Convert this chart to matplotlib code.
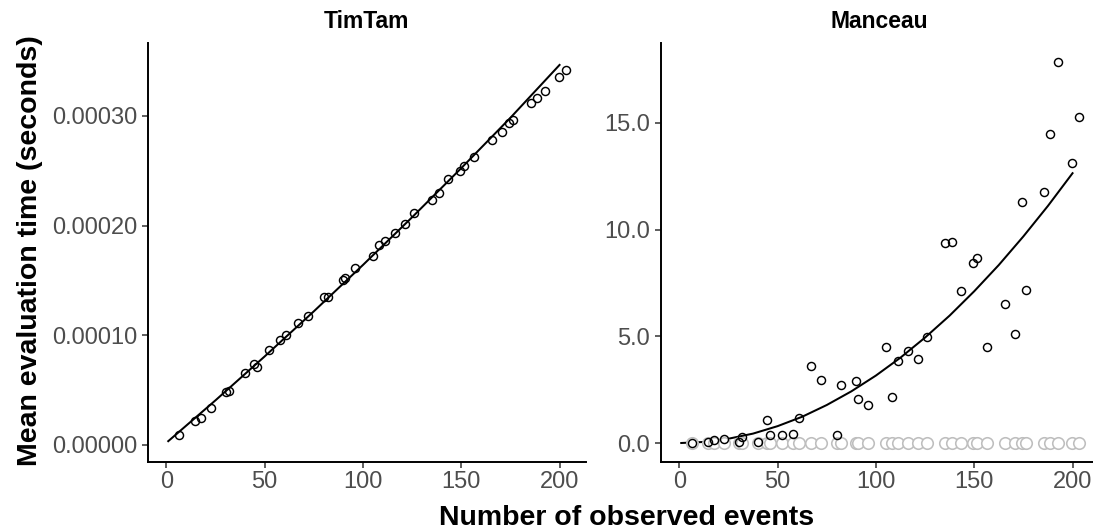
import numpy as np
import matplotlib
matplotlib.use("Agg")
import matplotlib.pyplot as plt
from matplotlib.ticker import FormatStrFormatter

plt.rcParams['font.family'] = ['Liberation Sans', 'DejaVu Sans']

# number of observed events (shared by both panels)
n_events = [6.6, 14.8, 17.8, 22.8, 30.5, 32.0, 39.8, 44.7, 46.0, 52.0,
            58.0, 61.0, 67.2, 72.2, 80.0, 82.1, 90.0, 91.0, 96.0, 105.2,
            108.1, 111.3, 116.2, 121.2, 126.1, 135.3, 138.5, 143.3, 149.3, 151.3,
            156.5, 165.5, 170.6, 174.5, 176.5, 185.5, 188.4, 192.5, 199.5, 203.3]

# TimTam mean evaluation time (s)
timtam_time = [0.0000091, 0.0000218, 0.0000248, 0.0000336, 0.0000485, 0.0000494,
               0.0000652, 0.0000742, 0.0000712, 0.0000864, 0.0000955, 0.0001006,
               0.0001115, 0.0001176, 0.0001345, 0.0001348, 0.0001500, 0.0001524,
               0.0001612, 0.0001727, 0.0001827, 0.0001864, 0.0001933, 0.0002015,
               0.0002112, 0.0002233, 0.0002300, 0.0002421, 0.0002500, 0.0002540,
               0.0002627, 0.0002782, 0.0002857, 0.0002939, 0.0002964, 0.0003121,
               0.0003167, 0.0003227, 0.0003355, 0.0003415]

# Manceau mean evaluation time (s)
manceau_time = [0.01, 0.05, 0.15, 0.17, 0.05, 0.28, 0.05, 1.09, 0.39, 0.39,
                0.44, 1.17, 3.61, 2.94, 0.36, 2.72, 2.90, 2.08, 1.80, 4.51,
                2.14, 3.83, 4.29, 3.92, 4.95, 9.38, 9.41, 7.12, 8.43, 8.67,
                4.51, 6.51, 5.12, 11.30, 7.17, 11.77, 14.47, 17.85, 13.13, 15.26]

# grey reference series along zero in the Manceau panel
manceau_ref = [0.0, 0.0, 0.0, 0.0, 0.0, 0.0, 0.0, 0.0, 0.0, 0.0,
               0.0, 0.0, 0.0, 0.0, 0.0, 0.0, 0.0, 0.0, 0.0, 0.0,
               0.0, 0.0, 0.0, 0.0, 0.0, 0.0, 0.0, 0.0, 0.0, 0.0,
               0.0, 0.0, 0.0, 0.0, 0.0, 0.0, 0.0, 0.0, 0.0, 0.0]

# smooth fits
timtam_fit_x = [1, 25, 50, 75, 100, 125, 150, 175, 200]
timtam_fit_y = [0.0000035, 0.0000407, 0.0000807, 0.0001218, 0.0001641,
                0.0002076, 0.0002524, 0.0002983, 0.0003465]
manceau_fit_x = [1, 12.5, 25, 37.5, 50, 62.5, 75, 87.5, 100, 112.5,
                 125, 137.5, 150, 162.5, 175, 187.5, 200]
manceau_fit_y = [0.0, 0.05, 0.20, 0.44, 0.79, 1.23, 1.78, 2.42, 3.16, 4.00,
                 4.94, 5.97, 7.11, 8.34, 9.68, 11.11, 12.64]

W, H = 1093, 529
fig = plt.figure(figsize=(W / 100, H / 100), dpi=100)

bottom, top = 462, 43
ax1 = fig.add_axes([148 / W, (H - bottom) / H, 437.5 / W, (bottom - top) / H])
ax2 = fig.add_axes([661 / W, (H - bottom) / H, 437.5 / W, (bottom - top) / H])

lw_line = 1.45
ax1.plot(timtam_fit_x, timtam_fit_y, color='black', lw=lw_line, zorder=2)
ax1.plot(n_events, timtam_time, 'o', mfc='none', mec='black', ms=5.8, mew=1.05, zorder=3)

ax2.plot(manceau_fit_x, manceau_fit_y, color='black', lw=lw_line, zorder=2)
ax2.plot(n_events, manceau_ref, 'o', mfc='white', mec='#BEBEBE', ms=8.3, mew=1.15, zorder=3)
ax2.plot(n_events, manceau_time, 'o', mfc='none', mec='black', ms=5.8, mew=1.05, zorder=4)

ax1.set_xlim(-9.3, 213.2)
ax2.set_xlim(-9.3, 213.2)
ax1.set_ylim(-0.0000155, 0.0003665)
ax2.set_ylim(-0.89, 18.74)

ax1.set_yticks([0, 0.0001, 0.0002, 0.0003])
ax1.yaxis.set_major_formatter(FormatStrFormatter('%.5f'))
ax2.set_yticks([0, 5, 10, 15])
ax2.yaxis.set_major_formatter(FormatStrFormatter('%.1f'))

for ax, title in [(ax1, 'TimTam'), (ax2, 'Manceau')]:
    ax.set_xticks([0, 50, 100, 150, 200])
    for s in ['top', 'right']:
        ax.spines[s].set_visible(False)
    for s in ['left', 'bottom']:
        ax.spines[s].set_linewidth(1.4)
        ax.spines[s].set_color('black')
    ax.tick_params(length=4, width=1.1, color='#333333', labelcolor='#4D4D4D',
                   labelsize=17)
    ax.tick_params(axis='y', pad=4)
    ax.tick_params(axis='x', pad=2.5)
    ax.set_title(title, fontsize=16.5, fontweight='bold', pad=11)

fig.text(30 / W, 1 - 251 / H, 'Mean evaluation time (seconds)', rotation=90,
         ha='center', va='center', fontsize=20.5, fontweight='bold')
fig.text(627 / W, 1 - 525 / H, 'Number of observed events',
         ha='center', va='baseline', fontsize=20.5, fontweight='bold')

fig.savefig('out.png', dpi=100)
